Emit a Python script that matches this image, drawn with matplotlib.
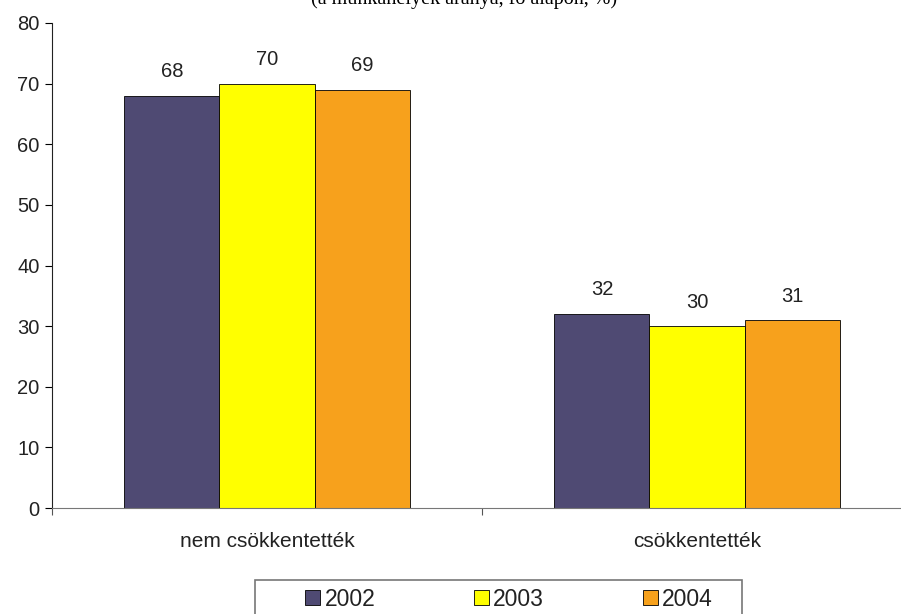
import numpy as np
import matplotlib.pyplot as plt
from matplotlib.patches import Rectangle

# adatok
categories = ['nem csökkentették', 'csökkentették']
years = ['2002', '2003', '2004']
values_2002 = [68, 32]
values_2003 = [70, 30]
values_2004 = [69, 31]
colors = ['#4F4A73', '#FFFF00', '#F7A11C']

plt.rcParams['font.family'] = ['Liberation Sans', 'DejaVu Sans']

fig = plt.figure(figsize=(9.01, 6.14), dpi=100)
ax = fig.add_axes([52 / 901, 106 / 614, 860 / 901, 485 / 614])

x = np.arange(len(categories))
w = 0.221
series = [values_2002, values_2003, values_2004]
for i, (vals, col, yr) in enumerate(zip(series, colors, years)):
    bars = ax.bar(x + (i - 1) * w, vals, w, color=col, edgecolor='black',
                  linewidth=0.6, label=yr)
    for b, v in zip(bars, vals):
        ax.text(b.get_x() + b.get_width() / 2, v + 2.4, str(v),
                ha='center', va='bottom', fontsize=14.5, color='#222222')

ax.set_xlim(-0.5, 1.5)
ax.set_ylim(0, 80)
ax.set_yticks(range(0, 81, 10))
ax.set_xticks([-0.5, 0.5, 1.5])
ax.set_xticklabels([])
ax.set_xticks(x, minor=True)
ax.set_xticklabels(categories, minor=True, fontsize=15)
ax.tick_params(axis='x', which='minor', length=0, pad=17, colors='#222222')
ax.tick_params(axis='x', which='major', length=5, direction='out', color='#555555')
ax.tick_params(axis='y', length=5, direction='out', labelsize=14.5, pad=4,
               labelcolor='#222222')

for s in ['top', 'right']:
    ax.spines[s].set_visible(False)
ax.spines['left'].set_color('#222222')
ax.spines['bottom'].set_color('#777777')

# levágott cím a tetején
fig.text(0.515, 0.994, '(a munkahelyek aránya, fő alapon, %)', ha='center',
         va='baseline', fontsize=14.5, family='Liberation Serif')

# jelmagyarázat, kerete lelóg az ábra aljáról
fig.legend(loc='center', bbox_to_anchor=(509 / 901, 1 - 599 / 614), ncol=3,
           frameon=False, handlelength=0.65, handleheight=0.65,
           handletextpad=0.2, columnspacing=4.3, fontsize=16.5,
           labelcolor='#222222')
fig.patches.append(Rectangle((255 / 901, -0.05), 487 / 901, 0.05 + 1 - 580 / 614,
                             transform=fig.transFigure, fill=False,
                             edgecolor='#777777', linewidth=1.2))

fig.savefig('out.png', dpi=100)
